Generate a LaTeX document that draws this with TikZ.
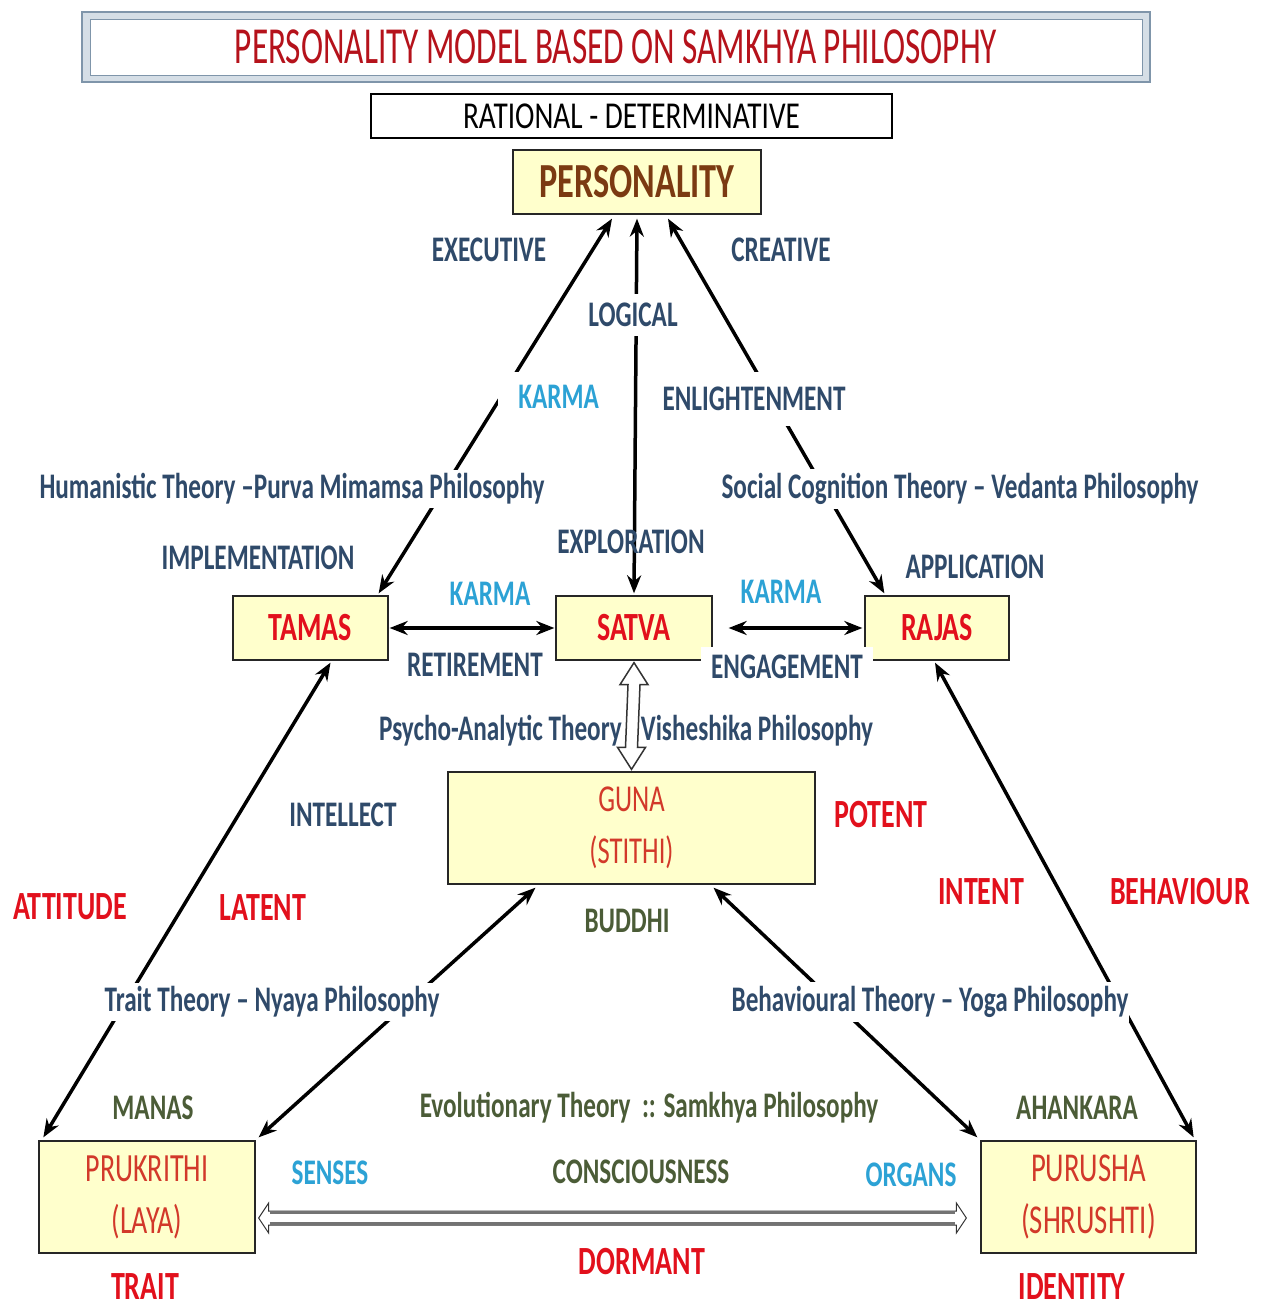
\documentclass[tikz,border=0pt]{standalone}
\usepackage{fontspec}
\setmainfont{Carlito}[FakeStretch=0.7]
\newfontfamily\ttlfont{Carlito}[FakeStretch=0.64]
\newfontfamily\ratfont{Carlito}[FakeStretch=0.77]
\usetikzlibrary{arrows.meta,calc}
\definecolor{navy}{HTML}{2F4A6A}
\definecolor{sky}{HTML}{2CA2D5}
\definecolor{rd}{HTML}{E2101C}
\definecolor{olive}{HTML}{4B5C37}
\definecolor{brn}{HTML}{7B3A12}
\definecolor{boxy}{HTML}{FFFFCC}
\definecolor{lred}{HTML}{D2392A}
\definecolor{ttl}{HTML}{B5121B}
\definecolor{tb}{HTML}{7F95AA}
\definecolor{tbf}{HTML}{D5DEE6}
\tikzset{
  lbl/.style={font=\fontsize{36}{36}\selectfont\bfseries, inner sep=1pt},
  nv/.style={lbl, text=navy},
  sk/.style={lbl, text=sky},
  rr/.style={lbl, text=rd, font=\fontsize{40}{40}\selectfont\bfseries},
  ol/.style={lbl, text=olive},
  wbg/.style={fill=white},
  ybox/.style={draw=black!85, line width=1.3, fill=boxy, inner sep=0pt},
  conn/.style={line width=3.5, {Stealth[length=18,width=14]}-{Stealth[length=18,width=14]}},
  hollow/.style={draw=black!80, line width=1.5, fill=white},
  gtxt/.style={font=\fontsize{40}{52}\selectfont, text=lred, align=center}
}
\begin{document}
\begin{tikzpicture}[x=1pt,y=-1pt]
\useasboundingbox[fill=white] (0,0) rectangle (1270,1309);

% title frame
\draw[draw=tb, fill=tbf, line width=1.5] (82,12) rectangle (1150,82);
\draw[draw=tb, fill=white, line width=1] (90,19) rectangle (1142,75);
\node[font=\ttlfont\fontsize{52}{52}\selectfont, text=ttl, inner sep=0pt] (title) at (616,47) {PERSONALITY MODEL BASED ON SAMKHYA PHILOSOPHY};

% rational box
\node[draw=black, line width=1.3, fill=white, minimum width=521, minimum height=44, inner sep=0pt,
      font=\ratfont\fontsize{38}{38}\selectfont] (rational) at (631.5,116) {RATIONAL - DETERMINATIVE};

% main boxes
\node[ybox, minimum width=248, minimum height=64, font=\fontsize{49}{49}\selectfont\bfseries, text=brn] (personality) at (637,182) {PERSONALITY};
\node[ybox, minimum width=155, minimum height=64] (tamas) at (310.5,628) {};
\node[ybox, minimum width=156, minimum height=64] (satva) at (634,628) {};
\node[ybox, minimum width=144, minimum height=64] (rajas) at (937,628) {};
\node[ybox, minimum width=367, minimum height=112] (guna) at (631.5,828) {};
\node[ybox, minimum width=216, minimum height=112] (prukrithi) at (147,1197) {};
\node[ybox, minimum width=215, minimum height=112] (purusha) at (1088.5,1197) {};

\node[rr] (tamasT) at (tamas) {TAMAS};
\node[rr] (satvaT) at (satva) {SATVA};
\node[rr] (rajasT) at (rajas) {RAJAS};
\node[gtxt, font=\fontsize{38}{52}\selectfont] (gunaT) at (guna) {GUNA\\(STITHI)};
\node[gtxt] (prukT) at (prukrithi) {PRUKRITHI\\(LAYA)};
\node[gtxt, font=\fontsize{41}{52}\selectfont] (puruT) at (purusha) {PURUSHA\\(SHRUSHTI)};

% connectors
\draw[conn] ([xshift=-10pt,yshift=2pt]tamas.north east) -- ([xshift=-25pt,yshift=-4pt]personality.south);
\draw[conn] ([yshift=2pt]satva.north) -- ([yshift=-4pt]personality.south);
\draw[conn] ([xshift=20pt,yshift=2pt]rajas.north west) -- ([xshift=31pt,yshift=-4pt]personality.south);
\draw[conn] ([xshift=1pt]tamas.east) -- ([xshift=-1pt]satva.west);
\draw[conn] ([xshift=16pt]satva.east) -- ([xshift=-2pt]rajas.west);
\draw[conn] ([xshift=20pt,yshift=-2pt]tamas.south) -- ([xshift=5pt,yshift=3pt]prukrithi.north west);
\draw[conn] ([xshift=-2pt,yshift=-2pt]rajas.south) -- ([xshift=-3pt,yshift=3pt]purusha.north east);
\draw[conn] ([xshift=3pt,yshift=3pt]prukrithi.north east) -- ([xshift=-96pt,yshift=-3pt]guna.south);
\draw[conn] ([xshift=-3pt,yshift=3pt]purusha.north west) -- ([xshift=82pt,yshift=-3pt]guna.south);

% labels
\node[nv] (executive) at (489,250) {EXECUTIVE};
\node[nv] (creative) at (781,250) {CREATIVE};
\node[nv, wbg, inner ysep=9pt, inner xsep=4pt] (logical) at (633,315) {LOGICAL};
\node[sk, wbg, anchor=east, text width=100pt, align=right, inner ysep=13pt] (karma1) at (600,397) {KARMA};
\node[nv, wbg, inner ysep=15pt, inner xsep=4pt] (enlight) at (754,399) {ENLIGHTENMENT};
\node[nv, wbg, inner ysep=4pt] (human) at (292,489) {Humanistic Theory –Purva Mimamsa Philosophy};
\node[nv, wbg, inner ysep=4pt] (social) at (960,489) {Social Cognition Theory – Vedanta Philosophy};
\node[nv] (implement) at (258,558) {IMPLEMENTATION};
\node[nv] (explore) at (631,542) {EXPLORATION};
\node[nv] (apply) at (975,567) {APPLICATION};
\node[sk] (karma2) at (490,594) {KARMA};
\node[sk] (karma3) at (781,592) {KARMA};
\node[nv] (retire) at (475,665) {RETIREMENT};
\node[nv, wbg, inner xsep=10pt, inner ysep=8pt] (engage) at (787,667) {ENGAGEMENT};
\node[nv] (psycho) at (626,731) {Psycho-Analytic Theory - Visheshika Philosophy};
\node[nv] (intellect) at (343,815) {INTELLECT};
\node[rr] (potent) at (881,815) {POTENT};
\node[rr] (attitude) at (70,907) {ATTITUDE};
\node[rr] (latent) at (263,908) {LATENT};
\node[rr] (intent) at (981,892) {INTENT};
\node[rr] (behaviour) at (1180,892) {BEHAVIOUR};
\node[ol] (buddhi) at (627,921) {BUDDHI};
\node[nv, wbg, inner ysep=4pt] (trait) at (272,1002) {Trait Theory – Nyaya Philosophy};
\node[nv, wbg, inner ysep=4pt] (behav) at (930,1002) {Behavioural Theory – Yoga Philosophy};
\node[ol] (manas) at (153,1108) {MANAS};
\node[ol] (evol) at (649,1108) {Evolutionary Theory\ \ :: Samkhya Philosophy};
\node[ol] (ahank) at (1077,1108) {AHANKARA};
\node[sk] (senses) at (330,1173) {SENSES};
\node[ol] (consc) at (641,1172) {CONSCIOUSNESS};
\node[sk] (organs) at (911,1175) {ORGANS};
\node[rr] (dormant) at (642,1262) {DORMANT};
\node[rr] (traitw) at (145,1287) {TRAIT};
\node[rr] (identity) at (1072,1287) {IDENTITY};

% hollow double arrow satva <-> guna
\draw[hollow] ([yshift=-2pt]satva.south) -- ++(14,22) -- ++(-8,0) -- ($([yshift=2pt]guna.north)+(6,-22)$) -- ++(8,0)
  -- ([yshift=2pt]guna.north) -- ++(-14,-22) -- ++(8,0) -- ($([yshift=-2pt]satva.south)+(-6,22)$) -- ++(-8,0) -- cycle;

% hollow double arrow prukrithi <-> purusha
\draw[hollow, line width=1] ([xshift=3pt,yshift=-21pt]prukrithi.east) -- ++(10,-15) -- ++(0,8) -- ($([xshift=-14pt,yshift=-21pt]purusha.west)+(-10,-7)$) -- ++(0,-8)
  -- ([xshift=-14pt,yshift=-21pt]purusha.west) -- ++(-10,15) -- ++(0,-8) -- ($([xshift=3pt,yshift=-21pt]prukrithi.east)+(10,7)$) -- ++(0,8) -- cycle;
\draw[line width=3.5, draw=black!55] ($([xshift=3pt,yshift=-21pt]prukrithi.east)+(11,-5.5)$) -- ($([xshift=-14pt,yshift=-21pt]purusha.west)+(-11,-5.5)$);
\draw[line width=3.5, draw=black!55] ($([xshift=3pt,yshift=-21pt]prukrithi.east)+(11,5.5)$) -- ($([xshift=-14pt,yshift=-21pt]purusha.west)+(-11,5.5)$);
\end{tikzpicture}
\end{document}
